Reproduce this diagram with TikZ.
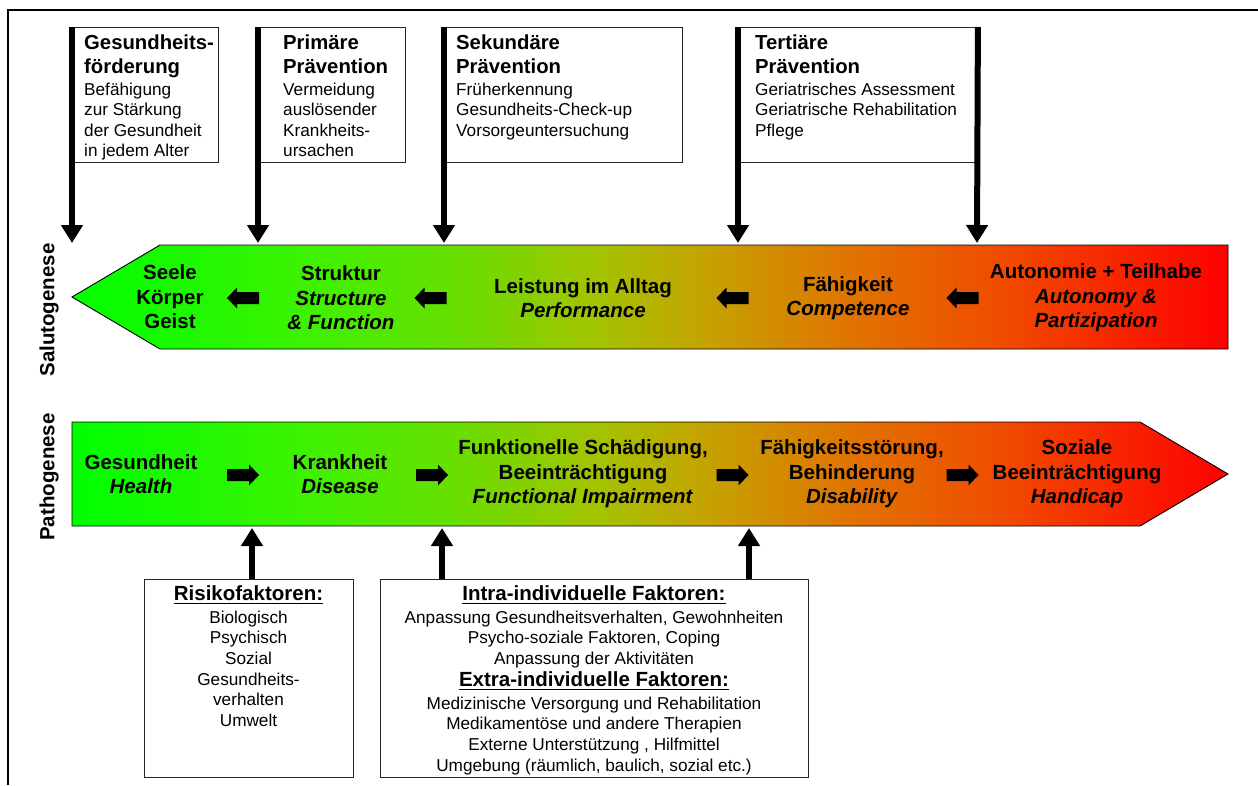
\documentclass[tikz,border=0pt]{standalone}
\usepackage{fontspec}
\setmainfont{Liberation Sans}
\usetikzlibrary{arrows.meta}
\definecolor{g0}{HTML}{00FF00}
\definecolor{g1}{HTML}{3CF200}
\definecolor{g2}{HTML}{66E000}
\definecolor{g3}{HTML}{A4C200}
\definecolor{g4}{HTML}{C4A400}
\definecolor{g5}{HTML}{E07400}
\definecolor{g6}{HTML}{F04C00}
\definecolor{g7}{HTML}{FF0000}
\pgfdeclarehorizontalshading{healthgrad}{100bp}{color(0bp)=(g0); color(25bp)=(g0); color(34.9bp)=(g1); color(41.3bp)=(g2); color(47.8bp)=(g3); color(52.2bp)=(g4); color(58.6bp)=(g5); color(65.1bp)=(g6); color(75bp)=(g7); color(100bp)=(g7)}
\tikzset{
  tbox/.style={draw=black!85, line width=0.9pt, inner sep=0pt, anchor=north west, minimum height=135pt},
  ttl/.style={font=\fontsize{20.3}{24}\selectfont\bfseries, align=left, anchor=north west, inner sep=0pt},
  tbody/.style={font=\fontsize{17.2}{20.5}\selectfont, align=left, anchor=north west, inner sep=0pt},
  thickarrow/.style={line width=6pt, -{Triangle[width=21pt,length=18pt]}},
  lab/.style={font=\fontsize{20.5}{24.5}\selectfont\bfseries, align=center, inner sep=0pt},
  vlab/.style={font=\fontsize{20.5}{24}\selectfont\bfseries, rotate=90, inner sep=0pt},
  bbox/.style={draw=black!85, line width=0.9pt, inner sep=0pt, anchor=north west, minimum height=198pt},
  hdr/.style={font=\fontsize{20.5}{24}\selectfont\bfseries, anchor=base, inner sep=0pt},
  bbody/.style={font=\fontsize{17.2}{20.6}\selectfont, align=center, anchor=north, inner sep=0pt},
  uline/.style={line width=1.8pt},
  bandline/.style={draw=black, line width=0.9pt, shading=healthgrad},
  larrow/.pic={\fill (-16,0) -- (-6,-10.5) -- (-6,-6) -- (16,-6) -- (16,6) -- (-6,6) -- (-6,10.5) -- cycle;},
  rarrow/.pic={\fill (16,0) -- (6,-10.5) -- (6,-6) -- (-16,-6) -- (-16,6) -- (6,6) -- (6,10.5) -- cycle;}
}
\begin{document}
\begin{tikzpicture}[x=1pt,y=-1pt]
\fill[white] (0,0) rectangle (1258,785);
\useasboundingbox (0,0) rectangle (1258,785);
% frame
\draw[line width=1.2pt] (8,785) -- (8,10) -- (1258,10);

% top boxes
\node[tbox, minimum width=146pt] (b1) at (72,27) {};
\node[tbox, minimum width=147pt] (b2) at (258,27) {};
\node[tbox, minimum width=238pt] (b3) at (444,27) {};
\node[tbox, minimum width=239pt] (b4) at (738,27) {};

\node[ttl] (b1t) at (84,33) {\rule{0pt}{16pt}Gesundheits-\\förderung};
\node[tbody] (b1b) at (84,81) {\rule{0pt}{14pt}Befähigung\\zur Stärkung\\der Gesundheit\\in jedem Alter};
\node[ttl] (b2t) at (283,33) {\rule{0pt}{16pt}Primäre\\Prävention};
\node[tbody] (b2b) at (283,81) {\rule{0pt}{14pt}Vermeidung\\auslösender\\Krankheits-\\ursachen};
\node[ttl] (b3t) at (456,33) {\rule{0pt}{16pt}Sekundäre\\Prävention};
\node[tbody] (b3b) at (456,81) {\rule{0pt}{14pt}Früherkennung\\Gesundheits-Check-up\\Vorsorgeuntersuchung};
\node[ttl] (b4t) at (755,33) {\rule{0pt}{16pt}Tertiäre\\Prävention};
\node[tbody] (b4b) at (755,81) {\rule{0pt}{14pt}Geriatrisches Assessment\\Geriatrische Rehabilitation\\Pflege};

% bands
\shadedraw[bandline] (72,297) -- (160,245) -- (1228,245) -- (1228,349) -- (160,349) -- cycle;
\shadedraw[bandline] (72,422) -- (1140,422) -- (1228,474) -- (1140,526) -- (72,526) -- cycle;

% arrow targets
\coordinate (t1) at (72,243);
\coordinate (t2) at (258,243);
\coordinate (t3) at (444,243);
\coordinate (t4) at (738,243);
\coordinate (t5) at (977,243);
\draw[thickarrow] (b1.north west) -- (t1);
\draw[thickarrow] (b2.north west) -- (t2);
\draw[thickarrow] (b3.north west) -- (t3);
\draw[thickarrow] (b4.north west) -- (t4);
\draw[thickarrow] (b4.north east) -- (t5);

% side labels
\node[vlab] (sal) at (49,310) {Salutogenese};
\node[vlab] (pat) at (49,477) {Pathogenese};

% salutogenese labels
\node[lab] (s1) at (170,297) {Seele\\Körper\\Geist};
\node[lab] (s2) at (341,298) {Struktur\\\textit{Structure}\\\textit{\& Function}};
\node[lab] (s3) at (583,298) {Leistung im Alltag\\\textit{Performance}};
\node[lab] (s4) at (848,298) {Fähigkeit\\\textit{Competence}};
\node[lab] (s5) at (1096,298) {Autonomie + Teilhabe\\\textit{Autonomy \&}\\\textit{Partizipation}};
\pic at (243,298) {larrow};
\pic at (430.5,298) {larrow};
\pic at (732.5,298) {larrow};
\pic at (962.5,298) {larrow};

% pathogenese labels
\node[lab] (p1) at (141,474) {Gesundheit\\\textit{Health}};
\node[lab] (p2) at (340,474) {Krankheit\\\textit{Disease}};
\node[lab] (p3) at (583,474) {Funktionelle Schädigung,\\Beeinträchtigung\\\textit{Functional Impairment}};
\node[lab] (p4) at (852,474) {Fähigkeitsstörung,\\Behinderung\\\textit{Disability}};
\node[lab] (p5) at (1077,474) {Soziale\\Beeinträchtigung\\\textit{Handicap}};
\pic at (243,475) {rarrow};
\pic at (432,475) {rarrow};
\pic at (732.5,475) {rarrow};
\pic at (962.5,475) {rarrow};

% bottom boxes
\node[bbox, minimum width=209pt] (rf) at (144,579) {};
\node[bbox, minimum width=428pt] (ind) at (380,579) {};
\coordinate (u1) at (252,528);
\coordinate (u2) at (442,528);
\coordinate (u3) at (749,528);
\draw[thickarrow] (rf.north -| u1) -- (u1);
\draw[thickarrow] (ind.north -| u2) -- (u2);
\draw[thickarrow] (ind.north -| u3) -- (u3);

\node[hdr] (rfh) at (248.5,600) {Risikofaktoren:};
\draw[uline] ([yshift=-3pt]rfh.south west) -- ([yshift=-3pt]rfh.south east);
\node[bbody] (rfb) at (248.5,609) {\rule{0pt}{14pt}Biologisch\\Psychisch\\Sozial\\Gesundheits-\\verhalten\\Umwelt};

\node[hdr] (ih) at (594,600) {Intra-individuelle Faktoren:};
\draw[uline] ([yshift=-3pt]ih.south west) -- ([yshift=-3pt]ih.south east);
\node[bbody] (ib) at (594,609) {\rule{0pt}{14pt}Anpassung Gesundheitsverhalten, Gewohnheiten\\Psycho-soziale Faktoren, Coping\\Anpassung der Aktivitäten};
\node[hdr] (eh) at (594,686) {Extra-individuelle Faktoren:};
\draw[uline] ([yshift=-3pt]eh.south west) -- ([yshift=-3pt]eh.south east);
\node[bbody] (eb) at (594,695) {\rule{0pt}{14pt}Medizinische Versorgung und Rehabilitation\\Medikamentöse und andere Therapien\\Externe Unterstützung , Hilfmittel\\Umgebung (räumlich, baulich, sozial etc.)};
\end{tikzpicture}
\end{document}
